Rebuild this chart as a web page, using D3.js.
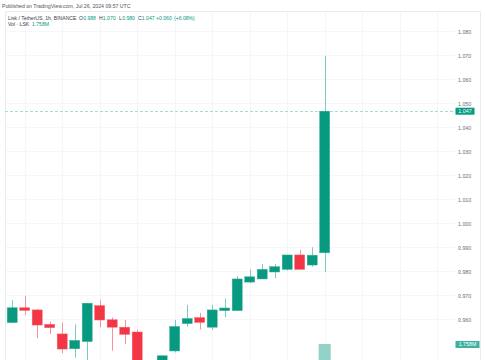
<!DOCTYPE html>
<html>
<head>
<meta charset="utf-8">
<script src="https://cdn.jsdelivr.net/npm/d3@7"></script>
<style>
html, body { margin:0; padding:0; background:#ffffff; }
#chart { width:485px; height:360px; overflow:hidden; }
text { font-family: "Liberation Sans", "DejaVu Sans", sans-serif; }
</style>
</head>
<body>
<div id="chart"></div>
<script>
// LSK/USDT 1h candles
var openList  = [0.9589,0.9651,0.9642,0.9582,0.9542,0.9480,0.9510,0.9660,0.9601,0.9570,0.9550,0.9400,0.9415,0.9471,0.9585,0.9610,0.9570,0.9639,0.9639,0.9758,0.9771,0.9800,0.9811,0.9871,0.9829,0.988];
var highList  = [0.9683,0.9701,0.9645,0.9593,0.9590,0.9582,0.9670,0.9683,0.9611,0.9600,0.9560,0.9430,0.9451,0.9600,0.9663,0.9630,0.9663,0.9690,0.9783,0.9811,0.9833,0.9833,0.9871,0.9892,0.9903,1.070];
var lowList   = [0.9587,0.9621,0.9524,0.9542,0.9461,0.9443,0.9400,0.9570,0.9472,0.9500,0.9380,0.9360,0.9400,0.9465,0.9572,0.9561,0.9558,0.9611,0.9639,0.9753,0.9771,0.9774,0.9806,0.9811,0.9822,0.980];
var closeList = [0.9651,0.9640,0.9579,0.9568,0.9479,0.9515,0.9670,0.9600,0.9570,0.9540,0.9400,0.9410,0.9451,0.9573,0.9606,0.9590,0.9642,0.9650,0.9771,0.9780,0.9811,0.9822,0.9871,0.9811,0.9870,1.047];
var volList   = [0.21,0.15,0.18,0.12,0.25,0.19,0.33,0.22,0.17,0.14,0.36,0.28,0.2,0.24,0.16,0.11,0.19,0.13,0.3,0.15,0.17,0.12,0.2,0.16,0.14,1.758];
var priceTicks = [1.080,1.070,1.060,1.050,1.040,1.030,1.020,1.010,1.000,0.990,0.980,0.970,0.960];
var lastPrice = 1.047;
var lastVolStr = "1.758M";

var upColor = "#089981";
var downColor = "#f23645";
var upWick = "#7ccbbd";
var downWick = "#f7929b";

(function () {
  'use strict'
	drawCandleChart("chart");
})()

function drawCandleChart(divIdStr){
	var W = 485, H = 360;
	var plotLeft = 5, plotRight = 455, plotTop = 11;

	var candles = openList.map(function(o, i){
		return { idx:i, o:o, h:highList[i], l:lowList[i], c:closeList[i], v:volList[i] };
	});

	var x = d3.scaleLinear().domain([0, 25]).range([12.2, 324.7]);
	var y = d3.scaleLinear().domain([0.960, 1.080]).range([320, 32]);
	var yVol = d3.scaleLinear().domain([0, 1.758]).range([372, 344]);
	var bodyW = 10;

	var svg = d3.select("#"+divIdStr).append("svg")
		.attr("width", W)
		.attr("height", H);

	svg.append("rect").attr("width", W).attr("height", H).attr("fill", "#ffffff");

	// grid
	var gridIdx = d3.range(1, 36, 3);
	svg.append("g")
		.attr("class", "vGrid")
		.selectAll("line")
		.data(gridIdx)
		.enter().append("line")
		.attr("x1", function(d){ return Math.round(x(d)) + 0.5; })
		.attr("x2", function(d){ return Math.round(x(d)) + 0.5; })
		.attr("y1", plotTop)
		.attr("y2", H)
		.attr("stroke", "#f5f6f8")
		.attr("stroke-width", 1);

	svg.append("g")
		.attr("class", "hGrid")
		.selectAll("line")
		.data(priceTicks)
		.enter().append("line")
		.attr("x1", plotLeft)
		.attr("x2", plotRight)
		.attr("y1", function(d){ return Math.round(y(d)) - 0.5; })
		.attr("y2", function(d){ return Math.round(y(d)) - 0.5; })
		.attr("stroke", "#f5f6f8")
		.attr("stroke-width", 1);

	// frame
	svg.append("path")
		.attr("d", "M" + (plotLeft+0.5) + "," + H + "V" + (plotTop+0.5) + "H480.5V" + H)
		.attr("fill", "none")
		.attr("stroke", "#e9ebef")
		.attr("stroke-width", 1);

	// volume
	svg.append("g")
		.attr("class", "volBars")
		.selectAll("rect")
		.data(candles)
		.enter().append("rect")
		.attr("x", function(d){ return x(d.idx) - 6; })
		.attr("width", 12)
		.attr("y", function(d){ return yVol(d.v); })
		.attr("height", function(d){ return yVol(0) - yVol(d.v); })
		.attr("fill", function(d){ return d.c >= d.o ? "#92d2c7" : "#f9a9b0"; });

	// last price line
	svg.append("line")
		.attr("x1", plotLeft)
		.attr("x2", plotRight)
		.attr("y1", Math.round(y(lastPrice)) + 0.5)
		.attr("y2", Math.round(y(lastPrice)) + 0.5)
		.attr("stroke", "#a6dbd2")
		.attr("stroke-width", 1)
		.attr("stroke-dasharray", "3,2");

	// wicks
	svg.append("g")
		.attr("class", "wicks")
		.selectAll("line")
		.data(candles)
		.enter().append("line")
		.attr("x1", function(d){ return Math.round(x(d.idx)) + 0.5; })
		.attr("x2", function(d){ return Math.round(x(d.idx)) + 0.5; })
		.attr("y1", function(d){ return y(d.h); })
		.attr("y2", function(d){ return y(d.l); })
		.attr("stroke", function(d){ return d.c >= d.o ? upWick : downWick; })
		.attr("stroke-width", 1);

	// bodies
	svg.append("g")
		.attr("class", "bodies")
		.selectAll("rect")
		.data(candles)
		.enter().append("rect")
		.attr("x", function(d){ return x(d.idx) - bodyW/2; })
		.attr("width", bodyW)
		.attr("y", function(d){ return y(Math.max(d.o, d.c)); })
		.attr("height", function(d){ return Math.max(1, Math.abs(y(d.o) - y(d.c))); })
		.attr("fill", function(d){ return d.c >= d.o ? upColor : downColor; })
		.attr("stroke", function(d){ return d.c >= d.o ? "#3aae9b" : "#f5606c"; })
		.attr("stroke-width", 0.5);

	// price axis labels
	svg.append("g")
		.attr("class", "priceAxis")
		.selectAll("text")
		.data(priceTicks)
		.enter().append("text")
		.attr("x", 458)
		.attr("y", function(d){ return y(d) + 1.8; })
		.attr("font-size", "5.3px")
		.attr("fill", "#6a6d78")
		.text(function(d){ return d3.format(".3f")(d); });

	// last price tag
	svg.append("rect")
		.attr("x", 455.5).attr("y", y(lastPrice) - 3.5)
		.attr("width", 19).attr("height", 7)
		.attr("fill", upColor);
	svg.append("text")
		.attr("x", 465).attr("y", y(lastPrice) + 1.9)
		.attr("text-anchor", "middle")
		.attr("font-size", "5.3px")
		.attr("fill", "#ffffff")
		.text(d3.format(".3f")(lastPrice));

	// volume tag
	svg.append("rect")
		.attr("x", 455.5).attr("y", yVol(1.758) - 3)
		.attr("width", 24).attr("height", 7)
		.attr("fill", "#3fb19e");
	svg.append("text")
		.attr("x", 467.5).attr("y", yVol(1.758) + 2.3)
		.attr("text-anchor", "middle")
		.attr("font-size", "5.3px")
		.attr("fill", "#ffffff")
		.text(lastVolStr);

	// header texts
	svg.append("text")
		.attr("x", 2).attr("y", 7.8)
		.attr("font-size", "5.2px")
		.attr("fill", "#50535e")
		.text("Published on TradingView.com, Jul 26, 2024 09:57 UTC");

	var legendParts = [
		{t:"Lisk / TetherUS, 1h, BINANCE", x:8, c:"#3b3e48"},
		{t:"O", x:79, c:"#3b3e48"}, {t:"0.988", x:83.2, c:upColor},
		{t:"H", x:99, c:"#3b3e48"}, {t:"1.070", x:102.8, c:upColor},
		{t:"L", x:119, c:"#3b3e48"}, {t:"0.980", x:122.2, c:upColor},
		{t:"C", x:138, c:"#3b3e48"}, {t:"1.047", x:141.8, c:upColor},
		{t:"+0.060", x:156, c:upColor},
		{t:"(+6.08%)", x:174, c:upColor}
	];
	svg.append("g")
		.attr("class", "legend")
		.selectAll("text")
		.data(legendParts)
		.enter().append("text")
		.attr("x", function(d){ return d.x; })
		.attr("y", 19.6)
		.attr("font-size", "5.1px")
		.attr("fill", function(d){ return d.c; })
		.text(function(d){ return d.t; });

	svg.append("text")
		.attr("x", 8).attr("y", 26.2)
		.attr("font-size", "5.1px")
		.attr("fill", "#3b3e48")
		.text("Vol \u00b7 LSK");
	svg.append("text")
		.attr("x", 32).attr("y", 26.2)
		.attr("font-size", "5.1px")
		.attr("fill", upColor)
		.text(lastVolStr);
}
</script>
</body>
</html>
